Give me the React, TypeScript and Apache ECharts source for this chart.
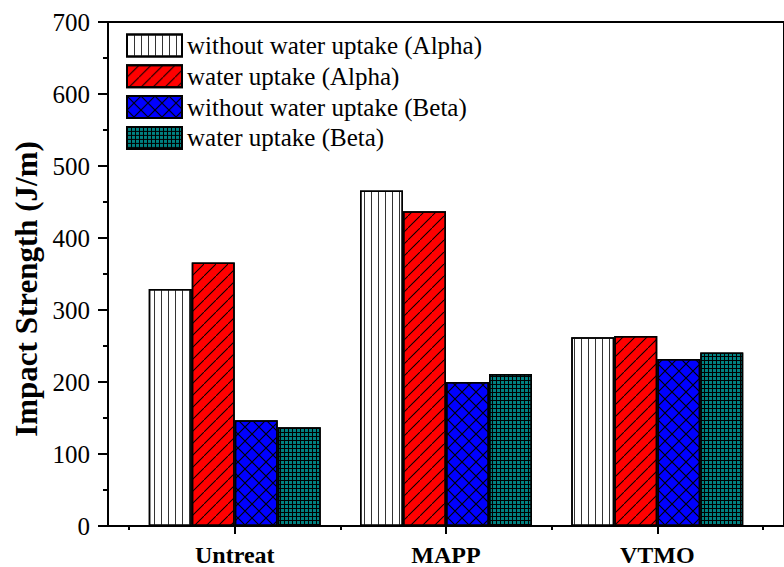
import React, { useEffect, useRef } from "react";
import * as echarts from "echarts";

const categories = ["Untreat", "MAPP", "VTMO"];
const categoryPositions = [1, 2, 3];
const boundaryPositions = [0.5, 1.5, 2.5, 3.5];
const seriesNames = [
  "without water uptake (Alpha)",
  "water uptake (Alpha)",
  "without water uptake (Beta)",
  "water uptake (Beta)",
];
const alphaDry = [329, 466, 262];
const alphaWet = [366, 437, 264];
const betaDry = [147, 200, 232];
const betaWet = [137, 211, 241];
const seriesValues = [alphaDry, alphaWet, betaDry, betaWet];
const seriesColors = ["#ffffff", "#ff0000", "#0000ff", "#008080"];

const FONT = "Liberation Serif, Times New Roman, serif";

const decals: any[] = [
  {
    symbol: "rect",
    symbolSize: 1,
    symbolKeepAspect: false,
    color: "#333333",
    dashArrayX: [1, 6],
    dashArrayY: [7, 0],
  },
  {
    symbol: "path://M0,12L0,11.3L11.3,0L12,0L12,0.7L0.7,12Z",
    symbolSize: 1,
    symbolKeepAspect: false,
    color: "#000000",
    dashArrayX: [12, 0],
    dashArrayY: [12, 0],
  },
  {
    symbol:
      "path://M0,0L0.8,0L14,13.2L14,14L13.2,14L0,0.8Z M0,14L0,13.2L13.2,0L14,0L14,0.8L0.8,14Z",
    symbolSize: 1,
    symbolKeepAspect: false,
    color: "#000000",
    dashArrayX: [14, 0],
    dashArrayY: [14, 0],
  },
  {
    symbol: "path://M0,0H4V1H1V4H0Z",
    symbolSize: 1,
    symbolKeepAspect: false,
    color: "#000000",
    dashArrayX: [4, 0],
    dashArrayY: [4, 0],
  },
];

export default function App() {
  const ref = useRef<HTMLDivElement>(null);

  useEffect(() => {
    if (!ref.current) return;
    const chart = echarts.init(ref.current, undefined, { renderer: "svg" });

    const option: any = {
      animation: false,
      backgroundColor: "#ffffff",
      grid: {
        left: 108,
        top: 22,
        right: -10,
        bottom: 41,
        show: true,
        borderColor: "#000",
        borderWidth: 2,
        backgroundColor: "transparent",
      },
      legend: {
        orient: "vertical",
        left: 126,
        top: 33,
        padding: 0,
        itemWidth: 55,
        itemHeight: 22,
        itemGap: 5.8,
        icon: "rect",
        data: seriesNames,
        textStyle: {
          fontFamily: FONT,
          fontSize: 25,
          color: "#000",
        },
      },
      xAxis: [
        {
          type: "value",
          min: 0.4,
          max: 3.6,
          position: "bottom",
          splitLine: { show: false },
          axisLine: { show: true, lineStyle: { color: "#000", width: 2 } },
          axisTick: {
            show: true,
            customValues: categoryPositions,
            length: 8,
            lineStyle: { color: "#000", width: 2 },
          },
          axisLabel: {
            customValues: categoryPositions,
            formatter: (v: number) => categories[Math.round(v) - 1] ?? "",
            fontFamily: FONT,
            fontSize: 24,
            fontWeight: "bold",
            color: "#000",
            margin: 17,
          },
        },
        {
          type: "value",
          min: 0.4,
          max: 3.6,
          position: "bottom",
          splitLine: { show: false },
          axisLine: { show: false },
          axisLabel: { show: false },
          axisTick: {
            show: true,
            customValues: boundaryPositions,
            length: 4,
            lineStyle: { color: "#000", width: 2 },
          },
        },
      ],
      yAxis: {
        type: "value",
        min: 0,
        max: 700,
        interval: 100,
        splitLine: { show: false },
        axisLine: { show: true, lineStyle: { color: "#000", width: 2 } },
        axisTick: { show: true, length: 10, lineStyle: { color: "#000", width: 2 } },
        minorTick: { show: true, splitNumber: 2, length: 5, lineStyle: { color: "#000", width: 2 } },
        axisLabel: {
          fontFamily: FONT,
          fontSize: 25,
          color: "#000",
          margin: 18,
        },
      },
      graphic: [
        {
          type: "text",
          x: 26,
          y: 289,
          rotation: Math.PI / 2,
          style: {
            text: "Impact Strength (J/m)",
            font: `bold 31px ${FONT}`,
            fill: "#000",
            textAlign: "center",
            textVerticalAlign: "middle",
          },
        },
      ],
      series: seriesNames.map((name, i) => ({
        name,
        type: "bar",
        xAxisIndex: 0,
        barWidth: 43,
        barGap: "0%",
        data: seriesValues[i].map((v, j) => [categoryPositions[j], v]),
        itemStyle: {
          color: seriesColors[i],
          borderColor: "#000",
          borderWidth: 1.5,
          decal: decals[i],
        },
      })),
    };

    chart.setOption(option);
    return () => chart.dispose();
  }, []);

  return (
    <div
      ref={ref}
      style={{ position: "absolute", left: 0, top: 0, width: 784, height: 567 }}
    />
  );
}
